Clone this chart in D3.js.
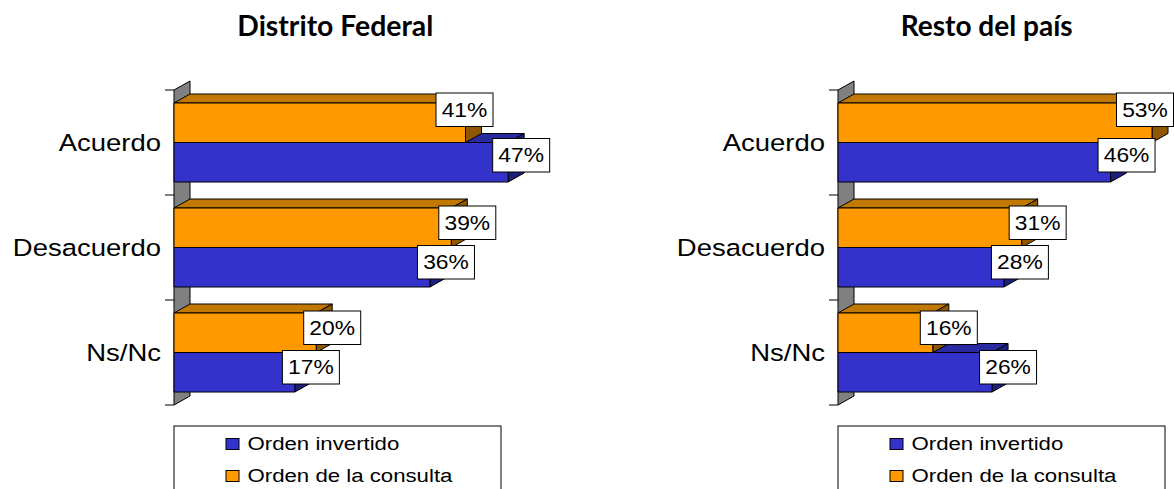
<!DOCTYPE html>
<html>
<head>
<meta charset="utf-8">
<script src="https://cdn.jsdelivr.net/npm/d3@7"></script>
<style>
  html, body { margin: 0; padding: 0; background: #fff; }
  svg { display: block; }
</style>
</head>
<body>
<svg id="chart" width="1174" height="489"></svg>
<script>
// ---------- DATA ----------
const categories = ["Acuerdo", "Desacuerdo", "Ns/Nc"];
const seriesNames = ["Orden invertido", "Orden de la consulta"];
const titles = ["Distrito Federal", "Resto del país"];
const dfInvertido = [47, 36, 17];
const dfConsulta = [41, 39, 20];
const restoInvertido = [46, 28, 26];
const restoConsulta = [53, 31, 16];
const axisMax = [50, 60];

// ---------- LAYOUT / STYLE ----------
const W = 1174, H = 489;
const depthX = 16, depthY = 9;
const plotTop = 90, plotBottom = 405, plotWidth = 355.5;
const stretch = 1.17;
const colors = {
  "Orden invertido": { front: "#3333CC", top: "#2A2AA0", side: "#1E1E7C" },
  "Orden de la consulta": { front: "#FF9900", top: "#C07800", side: "#8F5700" }
};
const panels = [
  { title: titles[0], origin: 174, titleX: 335.3, titleW: 196, max: axisMax[0],
    values: { "Orden invertido": dfInvertido, "Orden de la consulta": dfConsulta },
    nudge: { "Acuerdo|Orden de la consulta": [-17, -8], "Acuerdo|Orden invertido": [-3, -2] } },
  { title: titles[1], origin: 838, titleX: 986.7, titleW: 172, max: axisMax[1],
    values: { "Orden invertido": restoInvertido, "Orden de la consulta": restoConsulta },
    nudge: { "Acuerdo|Orden de la consulta": [0, -8], "Acuerdo|Orden invertido": [0, -2] } }
];

const svg = d3.select("#chart");

function stretchedText(g, x, y, txt, size, anchor) {
  return g.append("text")
    .attr("transform", `translate(${x},${y}) scale(${stretch},1)`)
    .attr("text-anchor", anchor)
    .attr("font-family", "Liberation Sans, Arial, sans-serif")
    .attr("font-size", size)
    .attr("fill", "#000")
    .text(txt);
}

panels.forEach(p => {
  const g = svg.append("g");
  const x = d3.scaleLinear().domain([0, p.max]).range([p.origin, p.origin + plotWidth]);
  const y = d3.scaleBand().domain(categories).range([plotTop, plotBottom]).paddingInner(0).paddingOuter(0);
  const inner = d3.scaleBand().domain(["Orden de la consulta", "Orden invertido"])
    .range([13, y.bandwidth() - 13]);

  // title
  g.append("text")
    .attr("x", p.titleX).attr("y", 36)
    .attr("text-anchor", "middle")
    .attr("font-family", "Lato, 'Open Sans', sans-serif")
    .attr("font-weight", "bold")
    .attr("font-size", 29)
    .attr("textLength", p.titleW)
    .attr("lengthAdjust", "spacingAndGlyphs")
    .text(p.title);

  // wall
  const x0 = x(0);
  g.append("path")
    .attr("d", `M${x0},${plotTop}L${x0 + depthX},${plotTop - depthY}L${x0 + depthX},${plotBottom - depthY}L${x0},${plotBottom}Z`)
    .attr("fill", "#808080").attr("stroke", "#000").attr("stroke-width", 1);

  // ticks
  const tickYs = categories.map(c => y(c)).concat([plotBottom]);
  g.selectAll("line.tick").data(tickYs).enter().append("line")
    .attr("x1", x0 - 9).attr("x2", x0).attr("y1", d => d).attr("y2", d => d)
    .attr("stroke", "#000").attr("stroke-width", 1);

  // category labels
  categories.forEach(c => {
    stretchedText(g, x0 - 13, y(c) + y.bandwidth() / 2 + 8.3, c, 23.5, "end");
  });

  // bars: draw bottom category first, blue before orange
  const bars = [];
  categories.forEach((c, i) => {
    seriesNames.forEach(s => {
      bars.push({ cat: c, i, series: s, value: p.values[s][i] });
    });
  });
  const order = [];
  for (let i = categories.length - 1; i >= 0; i--) {
    order.push(bars.find(b => b.i === i && b.series === "Orden invertido"));
    order.push(bars.find(b => b.i === i && b.series === "Orden de la consulta"));
  }
  order.forEach(b => {
    const col = colors[b.series];
    const xa = x(0), xb = x(b.value);
    const yt = y(b.cat) + inner(b.series), yb = yt + inner.bandwidth();
    const bg = g.append("g").attr("stroke", "#000").attr("stroke-width", 1).attr("stroke-linejoin", "round");
    bg.append("path")
      .attr("d", `M${xa},${yt}L${xa + depthX},${yt - depthY}L${xb + depthX},${yt - depthY}L${xb},${yt}Z`)
      .attr("fill", col.top);
    bg.append("path")
      .attr("d", `M${xb},${yt}L${xb + depthX},${yt - depthY}L${xb + depthX},${yb - depthY}L${xb},${yb}Z`)
      .attr("fill", col.side);
    bg.append("rect")
      .attr("x", xa).attr("y", yt).attr("width", xb - xa).attr("height", yb - yt)
      .attr("fill", col.front);
  });

  // data labels
  bars.forEach(b => {
    const yt = y(b.cat) + inner(b.series), yb = yt + inner.bandwidth();
    const nd = p.nudge[b.cat + "|" + b.series] || [0, 0];
    const boxW = 57, boxH = 33.5;
    let cx = x(b.value) + depthX + nd[0];
    const cy = (yt + yb) / 2 - 5 + nd[1];
    if (cx + boxW / 2 > W - 0.5) cx = W - 0.5 - boxW / 2;
    g.append("rect")
      .attr("x", cx - boxW / 2).attr("y", cy - boxH / 2)
      .attr("width", boxW).attr("height", boxH)
      .attr("fill", "#fff").attr("stroke", "#000").attr("stroke-width", 1);
    stretchedText(g, cx, cy + 7, b.value + "%", 19.5, "middle");
  });

  // legend
  const lx = x0, ly = 426;
  g.append("rect")
    .attr("x", lx).attr("y", ly).attr("width", 327).attr("height", 80)
    .attr("fill", "#fff").attr("stroke", "#000").attr("stroke-width", 1);
  seriesNames.forEach((s, k) => {
    const my = ly + 12.5 + k * 32;
    g.append("rect")
      .attr("x", lx + 52).attr("y", my).attr("width", 13).attr("height", 11)
      .attr("fill", colors[s].front).attr("stroke", "#000").attr("stroke-width", 1);
    stretchedText(g, lx + 73.5, my + 11.5, s, 19, "start");
  });
});
</script>
</body>
</html>
